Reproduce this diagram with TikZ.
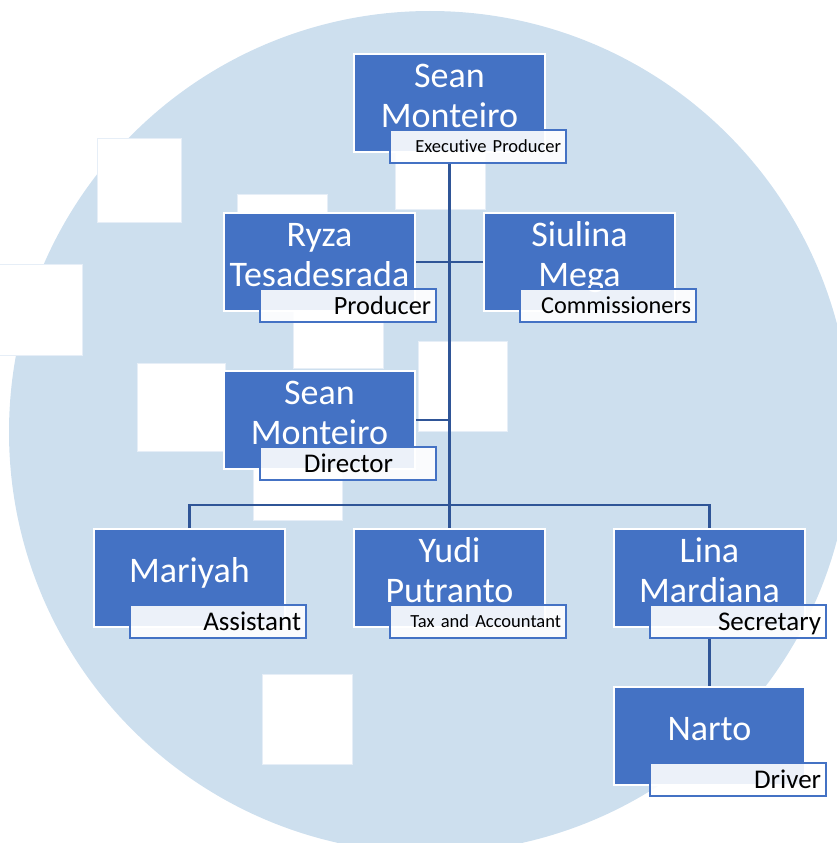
\documentclass[tikz,border=0pt]{standalone}
\usepackage{fontspec}
\setmainfont{Carlito}[Ligatures=NoCommon]
\usetikzlibrary{positioning}
\definecolor{bgcircle}{HTML}{CDDFEE}
\definecolor{boxblue}{HTML}{4472C4}
\definecolor{linkblue}{HTML}{2F5597}
\definecolor{patchedge}{HTML}{E6EEF7}
\tikzset{
  person/.style={draw=white, line width=2pt, fill=boxblue, minimum width=191pt, minimum height=98pt, inner sep=0pt},
  pname/.style={text=white, font=\fontsize{36}{40}\selectfont, align=center, inner sep=0pt},
  role/.style={draw=boxblue, line width=1.8pt, fill=white, fill opacity=0.9, text opacity=1,
    text width=166pt, inner xsep=5pt, inner ysep=0pt, minimum height=33pt, align=right,
    font=\fontsize{27}{30}\selectfont, text height=17.4pt, text depth=0pt, anchor=south east},
  smallrole/.style={role, font=\fontsize{18.5}{22}\selectfont, text height=12pt},
  link/.style={draw=linkblue, line width=2.7pt},
  patch/.style={fill=white, draw=patchedge, line width=0.8pt}
}
\newcommand{\nmtop}{\rule{0pt}{28pt}}
\newcommand{\nmbot}{\rule[-12pt]{0pt}{12pt}}
\begin{document}
\begin{tikzpicture}[x=1pt,y=-1pt]
\useasboundingbox (0,0) rectangle (837,843);
\clip (0,0) rectangle (837,843);
% background disc and white patches
\fill[bgcircle] (430,432) circle[radius=421pt];
\foreach \px/\py/\pw/\ph in {97/138/84/84, -5/264/87/91, 137/363/88/88, 237/194/90/90,
  293/278/90/90, 418/341/89/90, 395/120/90/89, 253/430/89/90, 262/674/90/90}
  \draw[patch] (\px,\py) rectangle ++(\pw,\ph);

% people
\node[person] (exec) at (449.5,103) {};
\node[person] (ryza) at (319.5,262) {};
\node[person] (siulina) at (579.5,262) {};
\node[person] (director) at (319.5,420) {};
\node[person] (mariyah) at (189.5,578) {};
\node[person] (yudi) at (449.5,578) {};
\node[person] (lina) at (709.5,578) {};
\node[person] (narto) at (709.5,736) {};

\node[pname] (exec-n) at ([yshift=3.5pt]exec.center) {\nmtop Sean\\Monteiro\nmbot};
\node[pname] (ryza-n) at ([yshift=3.5pt]ryza.center) {\nmtop Ryza\\Tesadesrada\nmbot};
\node[pname] (siulina-n) at ([yshift=3.5pt]siulina.center) {\nmtop Siulina\\Mega\nmbot};
\node[pname] (director-n) at ([yshift=3.5pt]director.center) {\nmtop Sean\\Monteiro\nmbot};
\node[pname] (mariyah-n) at ([yshift=3.5pt]mariyah.center) {\nmtop Mariyah\nmbot};
\node[pname] (yudi-n) at ([yshift=3.5pt]yudi.center) {\nmtop Yudi\\Putranto\nmbot};
\node[pname] (lina-n) at ([yshift=3.5pt]lina.center) {\nmtop Lina\\Mardiana\nmbot};
\node[pname] (narto-n) at ([yshift=3.5pt]narto.center) {\nmtop Narto\nmbot};

% roles
\node[smallrole] (exec-r) at ([xshift=21pt,yshift=-11pt]exec.south east) {Executive Producer};
\node[role, font=\fontsize{26.3}{30}\selectfont, text height=17pt] (ryza-r)
  at ([xshift=21pt,yshift=-11pt]ryza.south east) {Producer};
\node[role, font=\fontsize{24.3}{28}\selectfont, text height=15.7pt] (siulina-r)
  at ([xshift=21pt,yshift=-11pt]siulina.south east) {Commissioners};
\node[role] (director-r) at ([xshift=21pt,yshift=-11pt]director.south east) {Director\rule{38pt}{0pt}};
\node[role] (mariyah-r) at ([xshift=21pt,yshift=-11pt]mariyah.south east) {Assistant};
\node[smallrole] (yudi-r) at ([xshift=21pt,yshift=-11pt]yudi.south east) {Tax and Accountant};
\node[role] (lina-r) at ([xshift=21pt,yshift=-11pt]lina.south east) {Secretary};
\node[role] (narto-r) at ([xshift=21pt,yshift=-11pt]narto.south east) {Driver};

% connectors
\coordinate (bus) at (449.5,505);
\draw[link] (exec.south |- exec-r.south) -- (yudi.north);
\draw[link] (ryza.east) -- (siulina.west);
\draw[link] (director.east) -- (director.east -| exec.south);
\draw[link] (mariyah.north) |- (bus) -| (lina.north);
\draw[link] (lina.south |- lina-r.south) -- (narto.north);
\end{tikzpicture}
\end{document}
